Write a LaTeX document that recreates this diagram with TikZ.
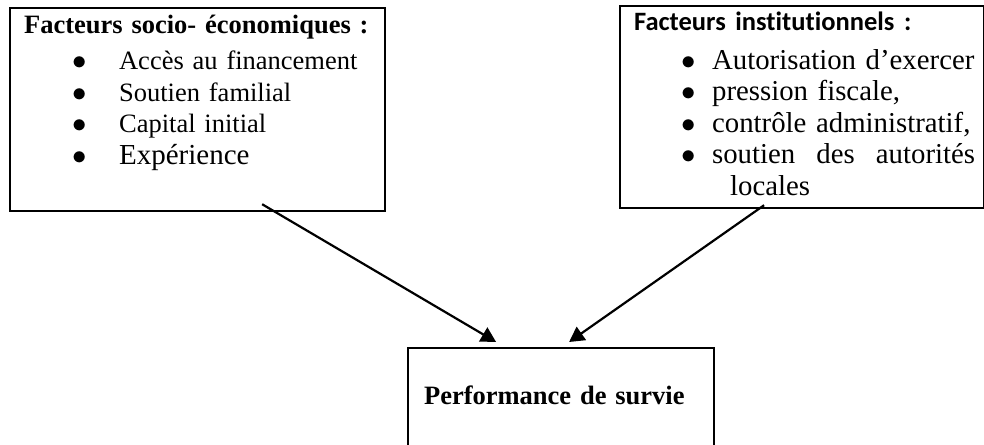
\documentclass[tikz,border=0pt]{standalone}
\usepackage{fontspec}
\setmainfont{Liberation Serif}
\newfontfamily\calibrifont[Ligatures=NoCommon]{Carlito}
\usetikzlibrary{arrows.meta,positioning}

\newcommand{\puce}[2]{\makebox[#2][l]{\hspace{#1}$\bullet$}}

\begin{document}
\begin{tikzpicture}[
        x=0.5pt, y=-0.5pt,
        every path/.style={line width=1.1pt},
        factbox/.style={draw, rectangle, anchor=north west, align=left, inner ysep=0pt, inner xsep=7pt, font=\fontsize{13.25}{15.75}\selectfont},
        link/.style={-{Triangle[length=7.5pt, width=8pt]}}
    ]

    \useasboundingbox (0,0) rectangle (984,444);

    % Nodes
    \node (socio) [factbox, text width=173.5pt, text height=12.5pt, text depth=89pt] at (9,7) {\textbf{Facteurs socio- économiques :}\\[2.5pt]
        \mbox{\puce{24pt}{47.5pt}Accès au financement}\\
        \mbox{\puce{24pt}{47.5pt}Soutien familial}\\
        \mbox{\puce{24pt}{47.5pt}Capital initial}\\
        \mbox{\puce{24pt}{47.5pt}{\fontsize{14.5}{15.75}\selectfont Expérience}}};

    \node (institu) [factbox, text width=168pt, text height=12pt, text depth=89pt, font=\fontsize{14.4}{15.75}\selectfont] at (619,5) {{\calibrifont\bfseries\fontsize{13.25}{15.75}\selectfont Facteurs institutionnels :}\\[3.75pt]
        \mbox{\puce{23.5pt}{39pt}Autorisation d’exercer}\\
        \mbox{\puce{23.5pt}{39pt}pression fiscale,}\\
        \mbox{\puce{23.5pt}{39pt}contrôle administratif,}\\
        \mbox{\puce{23.5pt}{39pt}\makebox[131.5pt][l]{soutien\hspace{0pt plus 1fill} des\hspace{0pt plus 1fill} autorités}}\\
        \mbox{\hspace*{48pt}locales}};

    \node (survie) [factbox, text width=137pt, inner xsep=8pt, text height=28pt, text depth=33.5pt] at (407,347) {\textbf{Performance de survie}};

    % Links
    \draw[link] ([xshift=32.25pt, yshift=4pt]socio.south) -- ([xshift=-32.5pt, yshift=2.5pt]survie.north);
    \draw[link] ([xshift=-19pt, yshift=2pt]institu.south) -- ([xshift=4pt, yshift=2.5pt]survie.north);

\end{tikzpicture}
\end{document}
